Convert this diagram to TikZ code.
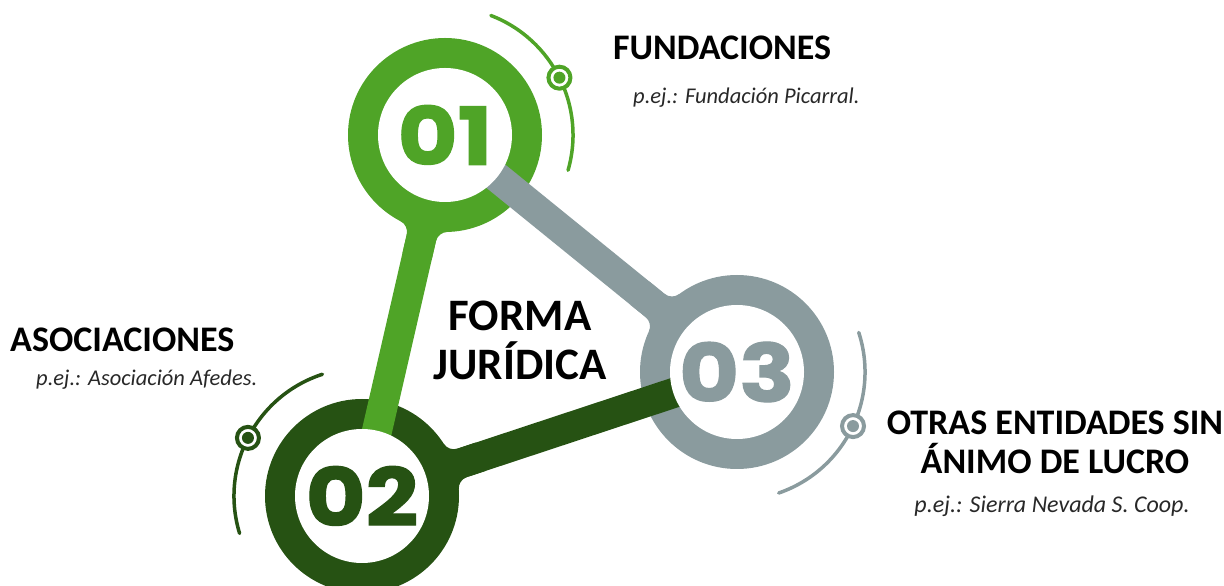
\documentclass[tikz,border=0pt]{standalone}
\usepackage{fontspec}
\setmainfont{Carlito}
\newfontfamily\numfont{Poppins}[FakeStretch=1.15, BoldFeatures={FakeBold=1.5}]
\definecolor{leafGreen}{RGB}{79,164,39}
\definecolor{darkGreen}{RGB}{38,82,19}
\definecolor{slateGray}{RGB}{138,155,158}
\definecolor{noteGray}{RGB}{40,40,40}

\begin{document}
\begin{tikzpicture}[x=1pt, y=1pt,
		ring/.style={circle, fill=#1, minimum size=194pt, inner sep=0pt},
		hole/.style={circle, fill=white, minimum size=134pt, inner sep=0pt, text=#1,
			font=\numfont\bfseries\fontsize{80}{80}\selectfont},
		bar/.style={line width=30pt, #1},
		deco/.style={line width=3.5pt, line cap=round, #1},
		marker/.style={circle, draw=#1, fill=white, line width=4pt, minimum size=22pt, inner sep=0pt,
			path picture={\fill[#1] (path picture bounding box.center) circle (6pt);}},
		head/.style={font=\bfseries\fontsize{36}{39}\selectfont, inner sep=0pt},
		note/.style={font=\itshape\fontsize{22.5}{26}\selectfont, text=noteGray, inner sep=0pt},
		flare/.pic={
			\fill (0,0) -- (93.98,24.03) arc[start angle=194.3, end angle=270, radius=12pt]
				-- (125,15) -- (125,-15) -- (105.6,-15)
				arc[start angle=90, end angle=165.7, radius=12pt] -- cycle;
		}]
	\useasboundingbox (0,0) rectangle (1224,586);

	% Rings
	\node[ring=leafGreen] (c1) at (445,451) {};
	\node[ring=darkGreen] (c2) at (362,90) {};
	\node[ring=slateGray] (c3) at (737,214) {};

	% Flared joints
	\pic[fill=leafGreen, rotate=-102.95] at (c1.center) {flare};
	\pic[fill=darkGreen, rotate=18.3] at (c2.center) {flare};
	\pic[fill=slateGray, rotate=140.93] at (c3.center) {flare};

	% Bars between rings
	\draw[bar=leafGreen] (c1.center) -- (c2.center);
	\draw[bar=darkGreen] (c2.center) -- (c3.center);
	\draw[bar=slateGray] (c3.center) -- (c1.center);

	% Inner white discs with numbers
	\node[hole=leafGreen] (n1) at (c1.center) {01};
	\node[hole=darkGreen] (n2) at (c2.center) {02};
	\node[hole=slateGray] (n3) at (c3.center) {03};

	% Outer arcs and markers
	\draw[deco=leafGreen] ([shift={(69:128pt)}]c1.center) arc[start angle=69, end angle=-16, radius=128pt];
	\draw[deco=darkGreen] ([shift={(108:128pt)}]c2.center) arc[start angle=108, end angle=197, radius=128pt];
	\draw[deco=slateGray] ([shift={(18:128pt)}]c3.center) arc[start angle=18, end angle=-71, radius=128pt];
	\node[marker=leafGreen] (m1) at ([shift={(26.6:128pt)}]c1.center) {};
	\node[marker=darkGreen] (m2) at ([shift={(153:128pt)}]c2.center) {};
	\node[marker=slateGray] (m3) at ([shift={(-25:128pt)}]c3.center) {};

	% Labels
	\node[head, align=center, anchor=base, font=\bfseries\fontsize{45}{49}\selectfont] (forma) at (520,206) {FORMA\\JURÍDICA};
	\node[head, anchor=base west] (fund) at (613,526) {FUNDACIONES};
	\node[note, anchor=base west] (fundEx) at (633,482) {p.ej.: Fundación Picarral.};
	\node[head, anchor=base west] (asoc) at (10,234) {ASOCIACIONES};
	\node[note, anchor=base west] (asocEx) at (36,200) {p.ej.: Asociación Afedes.};
	\node[head, align=center, anchor=base] (otras) at (1055,112) {OTRAS ENTIDADES SIN\\ÁNIMO DE LUCRO};
	\node[note, anchor=base, font=\itshape\fontsize{24}{28}\selectfont] (otrasEx) at (1052,73) {p.ej.: Sierra Nevada S. Coop.};
\end{tikzpicture}
\end{document}
